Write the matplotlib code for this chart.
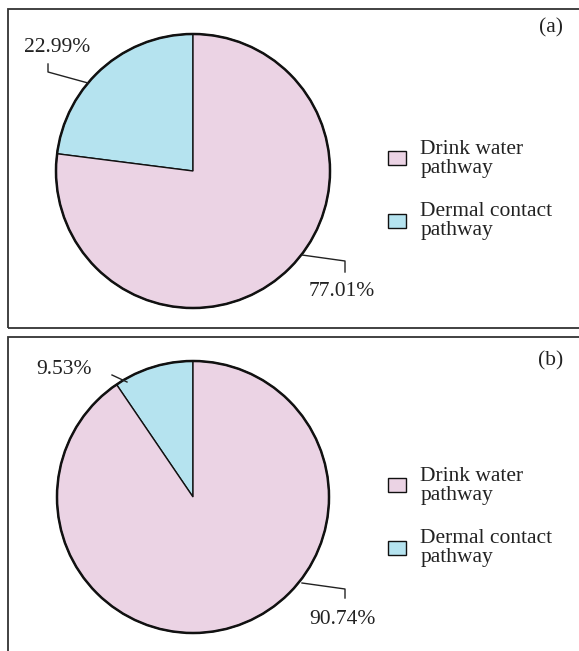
import numpy as np
import matplotlib
matplotlib.use('Agg')
import matplotlib.pyplot as plt
from matplotlib.patches import Rectangle, Circle, Patch

plt.rcParams['font.family'] = ['Liberation Serif', 'DejaVu Serif']

pathways = ['Drink water\npathway', 'Dermal contact\npathway']
shares_a = [77.01, 22.99]
shares_b = [90.74, 9.53]
panel_tags = ['(a)', '(b)']

pink = '#ebd3e4'
blue = '#b5e3ef'
ink = '#222222'
fs = 15.5

W, H = 579, 651
fig = plt.figure(figsize=(W / 100, H / 100), dpi=100)


def panel(top, bottom, shares, tag, lab_big, lab_small):
    # axes measured in pixels, y going up inside the panel strip
    h = bottom - top
    ax = fig.add_axes([0, (H - bottom) / H, 1, h / H])
    Y = lambda y: bottom - y

    frame_top, frame_bot = lab_big['frame']
    ax.add_patch(Rectangle((8, Y(frame_bot)), 620, frame_bot - frame_top,
                           fill=False, lw=1.3, ec='#333333', clip_on=False))

    cx, cy, r = lab_big['pie']
    ax.pie([shares[1], shares[0]], colors=[blue, pink], startangle=90,
           counterclock=True, center=(cx, Y(cy)), radius=r, frame=True,
           wedgeprops=dict(edgecolor='#111111', linewidth=1.0))
    ax.add_patch(Circle((cx, Y(cy)), r, fill=False, lw=1.8, ec='#111111'))
    ax.set_xlim(0, W)
    ax.set_ylim(0, h)
    ax.set_aspect('auto')
    ax.axis('off')

    # leader lines and percentage labels
    xs, ys = zip(*lab_big['line'])
    ax.plot(xs, [Y(v) for v in ys], color=ink, lw=1.0)
    ax.text(lab_big['txt'][0], Y(lab_big['txt'][1]), f'{shares[0]:.2f}%',
            ha='center', va='center', fontsize=fs, color=ink)
    xs, ys = zip(*lab_small['line'])
    ax.plot(xs, [Y(v) for v in ys], color=ink, lw=1.0)
    ax.text(lab_small['txt'][0], Y(lab_small['txt'][1]), f'{shares[1]:.2f}%',
            ha='center', va='center', fontsize=fs, color=ink)

    ax.text(551, Y(top + 28), tag, ha='center', va='center',
            fontsize=fs, color=ink)

    handles = [Patch(fc=pink, ec='#111111', lw=1.0),
               Patch(fc=blue, ec='#111111', lw=1.0)]
    leg = ax.legend(handles, pathways, loc='center left',
                    bbox_to_anchor=(388, Y(lab_big['leg'])),
                    bbox_transform=ax.transData, frameon=False,
                    fontsize=fs, handlelength=0.85, handleheight=0.65,
                    handletextpad=0.65, labelspacing=1.15, borderpad=0,
                    borderaxespad=0)
    for t in leg.get_texts():
        t.set_linespacing(1.0)
        t.set_color(ink)
    return ax


panel(0, 333, shares_a, panel_tags[0],
      dict(frame=(9, 328), pie=(193, 171, 137),
           line=[(302, 255), (345, 261), (345, 272)], txt=(342, 292), leg=190),
      dict(line=[(48, 64), (48, 72), (88, 83)], txt=(57, 47)))

panel(333, 651, shares_b, panel_tags[1],
      dict(frame=(337, 700), pie=(193, 497, 136),
           line=[(302, 583), (345, 589), (345, 598)], txt=(342, 620), leg=517),
      dict(line=[(112, 375), (127, 382)], txt=(64, 369)))

plt.savefig('out.png', dpi=100)
